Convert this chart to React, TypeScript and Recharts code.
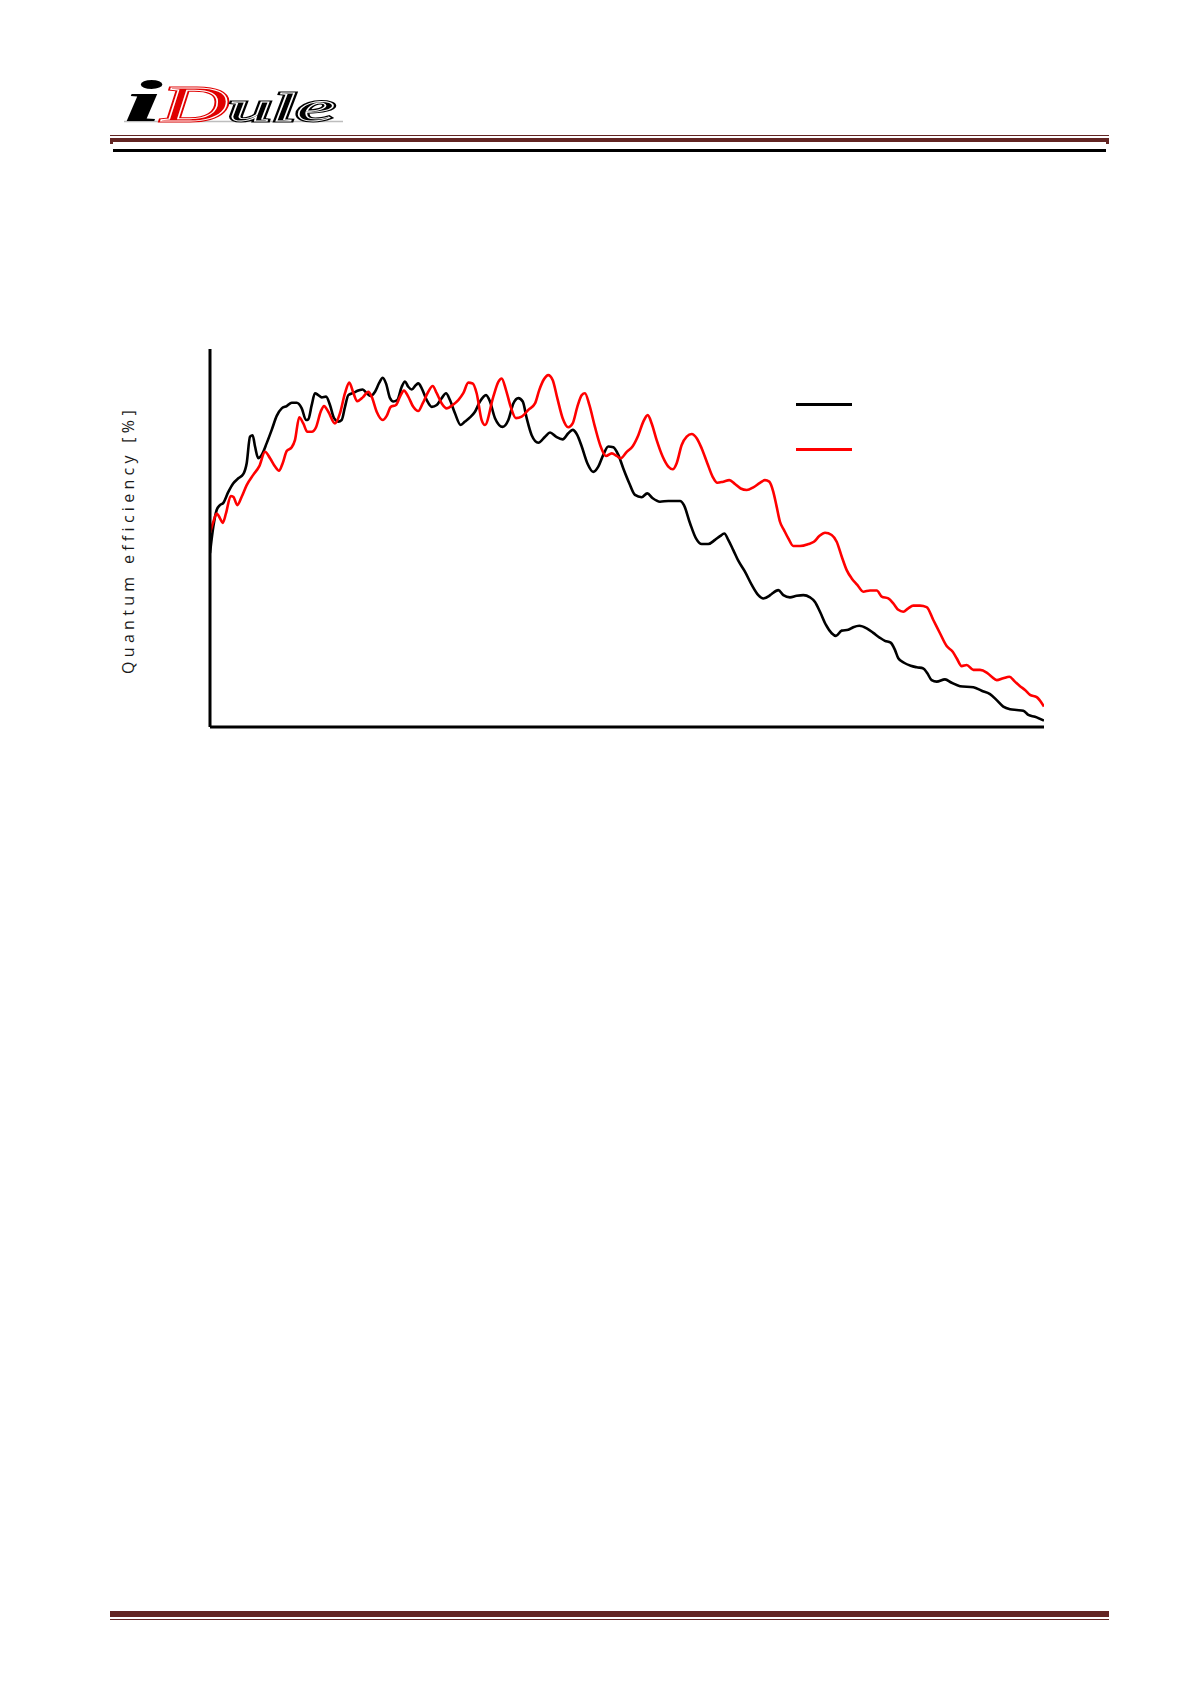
import React from "react";
import { LineChart, Line, XAxis, YAxis, Legend } from "recharts";

// Wavelength [nm] / quantum efficiency [%] pairs
const blackSeries: [number, number][] = [
  [400, 46.0], [402.8, 53.0], [405.6, 57.4], [408.4, 58.7], [411.2, 59.3], [415.4, 62.2],
  [419.6, 64.5], [423.8, 65.8], [427.9, 66.9], [430.8, 69.8], [433.6, 76.8], [435.8, 77.2],
  [437.8, 74.2], [440.5, 71.1], [443.4, 72.0], [447.6, 75.1], [451.8, 78.6], [456.0, 82.3],
  [460.2, 84.3], [464.4, 84.9], [468.6, 85.8], [472.8, 85.8], [477.0, 84.3], [480.6, 81.2],
  [482.5, 81.4], [485.4, 85.2], [488.1, 88.3], [490.9, 87.8], [493.8, 87.2], [497.4, 87.4],
  [500.7, 85.2], [504.1, 81.7], [507.7, 80.8], [510.5, 81.2], [513.3, 84.7], [516.1, 87.8],
  [520.3, 88.4], [524.5, 89.0], [528.2, 89.3], [531.5, 88.3], [534.9, 87.6], [538.5, 88.7],
  [542.1, 91.1], [545.0, 92.4], [547.7, 90.9], [551.1, 87.0], [553.9, 86.1], [557.2, 86.5],
  [560.9, 90.0], [563.7, 91.4], [566.4, 90.0], [569.3, 89.3], [572.9, 90.5], [574.8, 90.9],
  [577.7, 89.6], [581.9, 86.5], [586.1, 84.7], [590.3, 85.2], [594.5, 87.0], [598.1, 88.3],
  [601.4, 86.5], [605.6, 83.0], [610.4, 79.9], [614.0, 80.8], [618.2, 81.9], [622.4, 83.4],
  [626.6, 86.1], [631.7, 87.8], [635.0, 86.1], [639.2, 81.7], [645.7, 79.4], [650.4, 81.2],
  [654.6, 85.6], [658.8, 87.0], [662.5, 86.1], [665.8, 81.7], [670.0, 77.2], [675.6, 75.2],
  [681.2, 76.8], [685.4, 77.9], [690.4, 76.8], [696.0, 76.1], [700.7, 77.7], [704.4, 78.6],
  [708.3, 77.2], [712.0, 74.2], [716.7, 69.8], [721.7, 67.5], [725.9, 68.9], [730.1, 72.0],
  [734.3, 74.2], [738.5, 74.0], [742.7, 72.0], [746.9, 68.4], [751.9, 64.5], [756.7, 61.4],
  [762.3, 60.8], [767.0, 61.8], [771.6, 60.5], [777.7, 59.6], [784.7, 59.8], [794.5, 59.8],
  [797.8, 58.7], [802.9, 53.9], [807.9, 49.9], [812.7, 48.4], [818.2, 48.4], [823.9, 49.5],
  [828.1, 50.5], [831.7, 51.2], [835.0, 49.5], [839.2, 46.8], [843.4, 44.0], [849.0, 41.1],
  [854.7, 37.6], [860.2, 34.9], [864.4, 34.0], [869.4, 34.7], [871.4, 35.2], [877.0, 36.2],
  [881.2, 34.9], [886.8, 34.3], [892.4, 34.7], [898.0, 34.9], [903.6, 34.3], [907.8, 33.1],
  [912.0, 30.5], [917.0, 27.0], [921.8, 24.8], [925.4, 24.1], [930.2, 25.5], [935.7, 25.7],
  [939.9, 26.4], [945.0, 26.8], [951.2, 26.1], [956.7, 24.9], [962.3, 23.6], [966.5, 22.8],
  [971.3, 22.3], [974.9, 20.4], [977.7, 18.2], [982.5, 17.0], [988.1, 16.2], [993.2, 15.8],
  [998.7, 15.5], [1002.1, 14.2], [1005.7, 12.4], [1009.9, 12.0], [1016.9, 12.6], [1022.5, 11.7],
  [1029.5, 10.8], [1040.7, 10.5], [1047.7, 9.6], [1054.7, 8.7], [1060.3, 7.1], [1065.8, 5.4],
  [1071.5, 4.7], [1077.1, 4.5], [1082.6, 4.3], [1086.8, 3.2], [1092.4, 2.7], [1100, 1.7],
];

const redSeries: [number, number][] = [
  [400, 51.4], [402.8, 54.3], [405.6, 56.5], [408.4, 55.2], [410.7, 54.0], [413.4, 56.5],
  [417.4, 61.1], [419.6, 60.9], [422.9, 58.7], [426.6, 60.9], [430.8, 64.0], [436.3, 66.7],
  [441.4, 69.0], [446.2, 72.8], [450.4, 71.1], [454.6, 68.9], [457.9, 67.8], [461.0, 69.8],
  [464.4, 73.0], [468.6, 74.0], [471.3, 75.9], [474.9, 81.9], [478.3, 80.3], [481.7, 78.1],
  [485.4, 78.1], [489.0, 79.3], [492.9, 83.4], [495.7, 84.9], [499.3, 83.4], [504.9, 80.3],
  [509.1, 83.0], [513.3, 88.3], [516.9, 91.1], [520.3, 88.4], [523.6, 86.2], [528.2, 87.2],
  [532.9, 88.7], [535.7, 87.4], [539.9, 83.4], [545.0, 81.2], [548.3, 82.3], [551.7, 84.7],
  [556.1, 85.2], [559.5, 87.4], [562.8, 89.0], [566.4, 87.4], [570.6, 84.7], [574.8, 83.6],
  [578.5, 85.6], [583.2, 88.7], [586.9, 90.2], [590.3, 88.3], [594.5, 85.6], [598.7, 84.3],
  [603.7, 85.2], [608.4, 86.5], [612.6, 88.3], [616.8, 91.1], [620.5, 90.9], [623.8, 88.3],
  [628.0, 81.2], [630.8, 79.9], [637.8, 87.4], [642.0, 91.3], [644.8, 92.2], [648.4, 89.2],
  [652.4, 84.7], [656.8, 81.7], [661.6, 82.1], [667.2, 83.9], [672.8, 85.6], [676.4, 89.2],
  [680.3, 92.0], [683.9, 93.1], [687.6, 91.8], [691.5, 87.0], [696.0, 81.7], [700.7, 79.3],
  [704.4, 80.3], [708.3, 84.7], [712.0, 87.8], [714.7, 88.3], [718.4, 85.2], [723.1, 79.4],
  [727.9, 74.2], [732.4, 71.7], [737.2, 72.4], [741.4, 71.7], [744.7, 71.1], [749.8, 72.8],
  [754.8, 74.3], [759.5, 77.2], [763.7, 80.8], [767.4, 82.5], [770.7, 80.3], [774.9, 75.9],
  [780.0, 71.5], [784.7, 68.9], [788.4, 68.2], [791.7, 69.8], [795.9, 74.6], [800.1, 76.8],
  [804.3, 77.5], [808.5, 76.4], [812.7, 73.7], [817.4, 69.8], [821.9, 66.2], [825.8, 64.6],
  [830.8, 64.9], [835.9, 65.3], [840.6, 64.3], [845.4, 63.1], [850.5, 62.7], [856.0, 63.4],
  [861.6, 64.6], [865.8, 65.3], [869.4, 64.9], [872.8, 62.2], [875.6, 58.3], [878.4, 54.3],
  [881.8, 52.1], [885.4, 49.9], [889.6, 47.9], [895.2, 47.9], [902.2, 48.4], [906.9, 49.0],
  [911.4, 50.5], [916.2, 51.4], [921.8, 50.8], [926.0, 49.0], [930.2, 45.1], [934.4, 41.5],
  [938.6, 39.3], [943.3, 37.6], [948.3, 35.8], [954.0, 36.1], [959.6, 36.1], [963.8, 34.5],
  [969.3, 34.0], [973.5, 32.7], [977.7, 31.0], [981.9, 30.5], [986.1, 31.4], [990.3, 32.1],
  [995.9, 32.1], [1001.5, 31.7], [1007.1, 28.3], [1012.7, 24.8], [1018.3, 21.4], [1023.4, 19.9],
  [1026.7, 18.2], [1030.9, 16.1], [1035.1, 16.4], [1040.7, 15.1], [1046.3, 15.1], [1051.9, 14.4],
  [1056.1, 13.3], [1060.3, 12.4], [1065.8, 12.9], [1070.9, 13.3], [1075.6, 12.0], [1079.9, 10.8],
  [1084.1, 9.8], [1088.3, 8.5], [1093.9, 7.9], [1100, 5.4],
];

const xDomain: [number, number] = [400, 1100];
const yDomain: [number, number] = [0, 100];
const yAxisLabel = "Quantum efficiency [%]";

const blackData = blackSeries.map(([nm, qe]) => ({ nm, qe }));
const redData = redSeries.map(([nm, qe]) => ({ nm, qe }));

const BROWN = "#632523";

function LegendLines(props: any) {
  const payload = (props && props.payload) || [];
  return (
    <div>
      {payload.map((entry: any, i: number) => (
        <svg key={i} width={56} height={45} style={{ display: "block" }}>
          <line x1={0} x2={56} y1={22.5} y2={22.5} stroke={entry.color} strokeWidth={3} />
        </svg>
      ))}
    </div>
  );
}

function Logo() {
  const serif = "'Liberation Serif', 'DejaVu Serif', serif";
  return (
    <svg
      style={{ position: "absolute", left: 100, top: 65 }}
      width={270}
      height={72}
    >
      <line x1={24} y1={56.5} x2={243} y2={56.5} stroke="#bdbdbd" strokeWidth={1.5} />
      <text
        x={23}
        y={56}
        fontFamily={serif}
        fontStyle="italic"
        fontWeight="bold"
        fontSize={60}
        textLength={40}
        lengthAdjust="spacingAndGlyphs"
        fill="#000"
      >
        i
      </text>
      <text
        x={62}
        y={56}
        fontFamily={serif}
        fontStyle="italic"
        fontSize={50}
        textLength={66}
        lengthAdjust="spacingAndGlyphs"
        fill="#e00000"
        stroke="#e00000"
        strokeWidth={3}
      >
        D
      </text>
      <text
        x={62}
        y={56}
        fontFamily={serif}
        fontStyle="italic"
        fontSize={50}
        textLength={66}
        lengthAdjust="spacingAndGlyphs"
        fill="#e00000"
        stroke="#fff"
        strokeWidth={0.9}
      >
        D
      </text>
      <text
        x={128}
        y={56}
        fontFamily={serif}
        fontStyle="italic"
        fontSize={39}
        textLength={107}
        lengthAdjust="spacingAndGlyphs"
        fill="#000"
        stroke="#000"
        strokeWidth={3}
      >
        ule
      </text>
      <text
        x={128}
        y={56}
        fontFamily={serif}
        fontStyle="italic"
        fontSize={39}
        textLength={107}
        lengthAdjust="spacingAndGlyphs"
        fill="#000"
        stroke="#fff"
        strokeWidth={0.8}
      >
        ule
      </text>
    </svg>
  );
}

export default function App() {
  return (
    <div
      style={{
        position: "absolute",
        left: 0,
        top: 0,
        width: 1191,
        height: 1685,
        background: "#fff",
        overflow: "hidden",
      }}
    >
      <Logo />
      {/* header rules */}
      <div style={{ position: "absolute", left: 110, top: 134.5, width: 999, height: 1.5, background: BROWN }} />
      <div style={{ position: "absolute", left: 110, top: 137.5, width: 999, height: 4, background: BROWN }} />
      <div style={{ position: "absolute", left: 110, top: 137.5, width: 3, height: 6.5, background: BROWN }} />
      <div style={{ position: "absolute", left: 1106, top: 137.5, width: 3, height: 6.5, background: BROWN }} />
      <div style={{ position: "absolute", left: 113, top: 149, width: 993, height: 3, background: "#000" }} />

      {/* y axis title */}
      <div
        style={{
          position: "absolute",
          left: 128 - 160,
          top: 540 - 11,
          width: 320,
          height: 22,
          lineHeight: "22px",
          textAlign: "center",
          transform: "rotate(-90deg)",
          transformOrigin: "50% 50%",
          fontFamily: "'Open Sans', 'Noto Sans', sans-serif",
          fontSize: 16,
          letterSpacing: 4.3,
          color: "#1a1a1a",
          whiteSpace: "nowrap",
        }}
      >
        {yAxisLabel}
      </div>

      <div style={{ position: "absolute", left: 150, top: 300 }}>
        <LineChart width={920} height={460} margin={{ top: 49, right: 26, bottom: 32, left: 59 }}>
          <XAxis
            type="number"
            dataKey="nm"
            domain={xDomain}
            allowDataOverflow
            tick={false}
            tickLine={false}
            height={1}
            axisLine={{ stroke: "#000", strokeWidth: 3 }}
          />
          <YAxis
            type="number"
            domain={yDomain}
            allowDataOverflow
            tick={false}
            tickLine={false}
            width={1}
            axisLine={{ stroke: "#000", strokeWidth: 3 }}
          />
          <Legend
            layout="vertical"
            align="center"
            verticalAlign="middle"
            content={<LegendLines />}
            wrapperStyle={{ left: 646, top: 82, width: 56, height: 90 }}
          />
          <Line
            name="QE 1"
            data={blackData}
            dataKey="qe"
            type="monotone"
            stroke="#000000"
            strokeWidth={2.6}
            dot={false}
            activeDot={false}
            legendType="line"
            isAnimationActive={false}
          />
          <Line
            name="QE 2"
            data={redData}
            dataKey="qe"
            type="monotone"
            stroke="#ff0000"
            strokeWidth={2.6}
            dot={false}
            activeDot={false}
            legendType="line"
            isAnimationActive={false}
          />
        </LineChart>
      </div>

      {/* footer rules */}
      <div style={{ position: "absolute", left: 110, top: 1610.5, width: 999, height: 6, background: BROWN }} />
      <div style={{ position: "absolute", left: 110, top: 1618.5, width: 999, height: 1.5, background: BROWN }} />
    </div>
  );
}
